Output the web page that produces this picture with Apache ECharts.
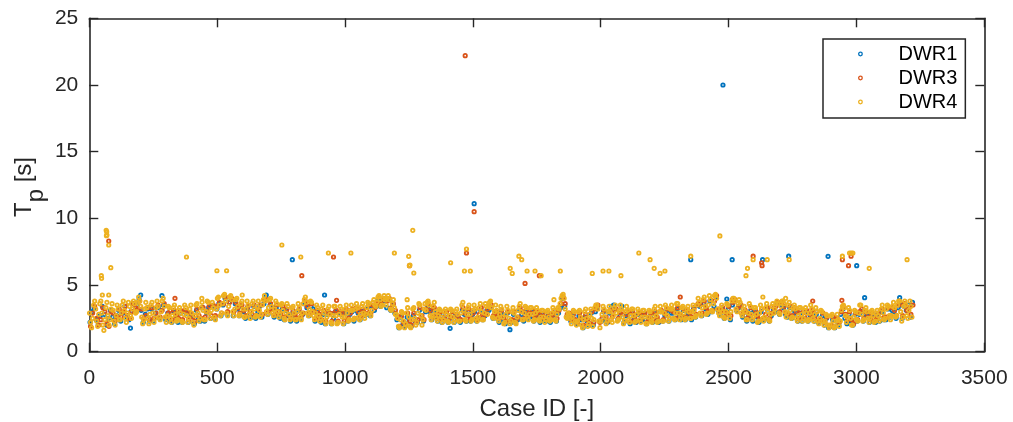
<!DOCTYPE html>
<html>
<head>
<meta charset="utf-8">
<script src="https://cdn.jsdelivr.net/npm/echarts@6/dist/echarts.min.js"></script>
<style>
html,body{margin:0;padding:0;background:#fff;}
#c{width:1013px;height:422px;}
</style>
</head>
<body>
<div id="c"></div>
<script>
// ---------- DATA ----------
const seriesNames = ['DWR1', 'DWR3', 'DWR4'];
const xTicks = [0, 500, 1000, 1500, 2000, 2500, 3000, 3500];
const yTicks = [0, 5, 10, 15, 20, 25];

// DWR1 band: case IDs = start + i*step
const dwr1Start = 3, dwr1Step = 8;
const dwr1Band = [
2.2,3.0,3.3,2.4,2.0, 2.7,3.4,2.8,2.0,2.5, 3.1,2.6,2.1,2.7,3.1, 2.3,2.9,3.4,2.6,2.4,
3.0,3.6,3.1,3.5,3.9, 3.1,2.2,2.8,3.2,2.3, 3.2,2.3,2.9,3.3,2.5, 3.3,3.5,2.4,2.9,2.3,
2.2,3.0,2.7,2.2,2.9, 2.2,3.0,2.9,2.2,2.8, 2.7,2.1,3.1,2.5,2.3, 3.3,2.3,2.9,3.3,2.5,
3.4,2.5,3.2,3.6,2.7, 3.5,4.0,2.8,3.7,3.9, 2.7,3.6,3.2,2.7,3.4, 3.0,2.5,3.3,2.8,2.6,
3.4,2.5,3.0,3.4,2.6, 3.6,3.9,2.8,3.5,3.3, 2.6,3.3,2.8,2.5,3.2, 2.4,3.1,2.7,2.3,2.9,
2.7,2.3,3.1,2.5,2.8, 3.6,3.3,2.7,3.4,3.2, 2.3,3.0,2.6,2.2,2.8, 2.1,2.8,2.9,2.1,2.5,
3.0,2.2,2.9,2.8,2.1, 2.9,2.3,2.8,3.0,2.3, 3.1,2.9,2.4,3.0,2.7, 2.8,3.4,2.7,3.4,3.1,
3.4,4.0,3.4,3.8,3.9, 3.3,3.9,3.1,3.5,2.9, 2.4,1.8,2.6,2.1,1.9, 2.6,2.3,1.9,2.7,2.3,
2.2,3.1,2.5,2.3,3.0, 3.3,3.0,2.4,3.1,2.6, 2.3,2.8,2.2,2.4,2.8, 2.2,2.5,2.8,2.2,2.6,
2.6,2.2,3.1,2.8,2.3, 3.0,2.3,2.8,3.0,2.3, 2.5,3.1,2.4,2.7,3.1, 3.1,3.3,2.5,2.8,2.5,
2.2,2.9,2.4,2.1,2.9, 2.3,2.2,2.8,2.2,2.4, 3.1,2.8,2.3,3.0,2.5, 2.6,3.0,2.3,2.7,2.8,
2.2,2.8,2.4,2.3,2.8, 2.2,2.7,2.9,2.3,2.9, 3.3,4.0,3.4,2.6,2.7, 2.3,2.7,2.3,2.1,2.7,
2.4,1.8,2.6,2.3,2.0, 2.9,2.0,3.0,3.3,2.3, 2.3,3.0,2.4,2.2,2.9, 3.4,3.5,3.2,2.4,2.7,
3.4,2.2,2.7,2.8,2.1, 2.9,2.5,2.2,2.8,2.3, 2.4,2.8,2.1,2.4,2.7, 2.2,2.9,2.5,2.2,3.0,
2.3,2.7,3.1,2.3,2.9, 2.9,2.4,3.2,2.7,2.4, 3.1,2.4,2.9,2.8,2.4, 3.2,2.6,3.5,3.4,2.7,
3.6,3.2,2.8,3.8,3.0, 3.4,4.1,3.1,2.8,3.2, 2.5,2.8,3.2,2.4,3.5, 3.8,3.1,3.3,3.4,2.6,
3.0,2.3,2.7,3.1,2.3, 3.0,2.6,2.2,3.0,2.4, 2.5,3.2,2.3,2.7,3.2, 3.0,3.6,2.8,3.5,3.3,
2.8,2.6,3.3,2.5,3.1, 2.9,2.3,2.9,2.3,2.5, 3.0,2.3,2.7,2.9,2.3, 2.8,2.2,2.3,2.7,2.0,
2.5,1.8,1.9,2.4,1.8, 2.3,2.0,2.8,3.2,2.5, 2.1,2.8,2.3,2.0,2.8, 2.3,2.8,3.0,2.3,2.8,
2.7,2.2,2.7,2.5,2.2, 2.8,2.3,3.0,2.4,2.4, 3.2,2.6,3.1,3.0,2.5, 3.3,3.5,2.5,3.4,3.1,
3.5,2.6,3.7
];
const dwr1Outliers = [
[161,1.77],[201,4.25],[284,4.2],[692,4.25],[794,6.9],[920,4.25],[1411,1.75],[1505,11.1],
[1645,1.65],[2352,6.9],[2478,20.0],[2493,3.95],[2514,6.9],[2633,6.9],[2735,7.16],
[2889,7.15],[3001,6.45],[3032,4.05],[3169,4.05]
];

// DWR3 band
const dwr3Start = 5, dwr3Step = 8;
const dwr3Band = [
1.9,2.9,3.4,2.5,2.0, 2.4,3.3,3.0,2.1,1.9, 3.0,2.9,2.3,2.6,3.2, 2.6,3.0,3.4,2.7,2.5,
3.0,3.6,3.3,3.2,3.8, 3.2,2.5,2.7,3.3,2.4, 3.3,2.5,2.9,3.5,2.6, 3.1,3.6,2.6,2.9,3.1,
2.4,3.1,2.7,2.5,3.1, 2.4,3.1,3.0,2.4,2.9, 2.6,2.3,3.2,2.7,2.5, 3.3,2.6,3.0,3.4,2.7,
3.5,2.7,3.4,3.7,2.9, 3.6,4.1,3.0,3.7,4.0, 3.0,3.7,3.3,2.9,3.5, 3.1,2.7,3.4,3.0,2.8,
3.5,2.7,3.2,3.5,2.8, 3.9,3.9,3.0,3.6,3.2, 2.8,3.5,3.0,2.8,3.4, 2.6,3.2,2.8,2.5,3.1,
2.8,2.5,3.2,2.7,2.9, 3.8,3.4,2.9,3.6,3.0, 2.5,3.1,2.8,2.4,3.1, 2.3,3.0,2.9,2.3,2.9,
3.1,2.3,3.0,2.9,2.3, 3.2,2.5,2.9,3.2,2.5, 3.3,3.0,2.6,3.2,2.8, 3.1,3.5,2.9,3.5,3.3,
3.6,4.1,3.6,3.9,4.0, 3.8,4.0,3.3,3.6,3.1, 2.6,1.9,2.7,2.2,2.0, 2.9,2.3,2.0,2.9,2.3,
2.4,3.3,2.7,2.4,3.2, 3.6,3.1,2.6,3.3,2.8, 2.5,3.0,2.4,2.6,3.0, 2.3,2.6,3.0,2.4,2.8,
2.5,2.4,3.3,2.9,2.5, 3.2,2.5,2.9,3.2,2.4, 2.8,3.3,2.6,2.8,3.2, 3.4,3.5,2.7,3.0,2.8,
2.5,3.1,2.6,2.3,3.0, 2.3,2.4,3.0,2.4,2.6, 3.3,3.0,2.5,3.1,2.7, 2.9,3.1,2.5,2.8,3.0,
2.5,2.9,2.6,2.4,2.9, 2.5,2.8,3.1,2.5,3.1, 3.6,4.1,3.6,2.8,2.9, 2.4,2.8,2.4,2.2,2.9,
2.5,2.0,2.8,2.4,2.1, 3.0,2.2,3.2,3.5,2.2, 2.5,3.1,2.6,2.3,3.1, 2.6,3.1,3.2,2.5,2.9,
3.0,2.3,2.8,3.0,2.3, 3.0,2.6,2.3,2.9,2.4, 2.8,2.9,2.2,2.5,2.9, 2.4,3.0,2.6,2.3,3.1,
2.4,2.8,3.2,2.5,3.1, 3.0,2.5,3.3,2.8,2.6, 3.2,2.6,3.1,2.9,2.6, 3.3,2.8,3.6,3.5,2.9,
3.8,3.3,3.0,3.9,3.1, 3.8,4.2,3.2,3.0,3.3, 2.6,2.9,3.4,2.7,3.7, 3.9,3.2,3.4,3.5,2.9,
3.1,2.5,2.8,3.3,2.6, 3.1,2.7,2.4,3.2,2.5, 2.8,3.3,2.5,2.9,3.3, 3.4,3.7,3.0,3.7,3.4,
2.9,2.8,3.4,2.7,3.3, 3.0,2.5,3.1,2.5,2.7, 3.1,2.4,2.8,3.1,2.5, 3.0,2.3,2.4,2.9,2.2,
2.6,1.9,2.0,2.6,1.9, 2.5,2.2,3.0,3.4,2.8, 2.4,3.0,2.4,2.1,2.9, 2.4,3.0,3.2,2.5,3.0,
2.8,2.4,2.9,2.5,2.4, 2.9,2.5,3.2,2.6,2.6, 3.3,2.7,3.3,3.1,2.7, 3.5,3.6,2.7,3.6,3.1,
3.3,2.8,3.5
];
const dwr3Outliers = [
[76,8.3],[335,4.0],[831,5.7],[955,7.1],[967,3.85],[1252,6.45],[1470,22.2],[1475,7.4],
[1505,10.5],[1704,5.12],[1760,5.7],[2311,4.1],[2515,3.9],[2596,7.16],[2629,6.67],
[2631,6.45],[2829,3.8],[2943,3.85],[2945,6.9],[2969,6.45],[2979,7.16]
];

// DWR4 band
const dwr4Start = 1, dwr4Step = 4;
const dwr4Band = [
2.9,2.2,1.8,2.5,3.5,3.8,3.2,2.3,1.9,2.8,
3.6,3.8,2.9,2.0,1.6,2.4,3.3,3.7,2.7,2.0,
2.4,3.2,3.6,3.1,2.3,2.0,2.7,3.5,3.2,2.4,
2.4,2.9,3.5,3.8,3.1,2.5,2.2,2.9,3.7,3.4,
2.7,2.5,3.2,3.8,3.6,2.9,3.0,3.7,4.1,3.8,
3.4,2.6,2.1,2.4,3.2,3.7,3.3,2.5,2.1,2.8,
3.5,3.7,2.9,2.2,2.5,3.3,3.8,3.4,2.6,2.4,
3.0,3.8,4.0,3.4,2.6,2.2,2.7,3.4,3.3,2.5,
2.2,2.7,3.3,3.5,2.8,2.3,2.4,3.1,3.3,2.9,
2.3,2.2,2.8,3.5,3.3,2.7,2.2,2.5,3.2,3.5,
2.9,2.2,2.0,2.7,3.5,3.6,2.9,2.3,2.5,3.3,
3.7,3.1,2.4,2.4,3.0,3.8,3.7,2.9,2.5,3.1,
3.7,3.3,2.6,2.4,3.2,4.0,4.1,3.5,2.7,2.9,
3.6,4.2,4.3,3.8,2.9,2.7,3.4,4.1,4.2,3.9,
3.0,2.7,3.2,3.9,4.0,3.4,2.7,2.8,3.6,3.8,
3.2,2.6,2.6,3.2,3.8,3.5,2.8,2.5,3.0,3.6,
3.8,3.2,2.6,2.7,3.4,3.8,3.1,2.6,2.8,3.5,
3.9,4.2,3.8,3.0,2.8,3.3,3.9,4.0,3.4,2.9,
2.7,3.2,3.8,3.6,3.0,2.6,2.8,3.5,3.6,3.1,
2.5,2.4,2.9,3.6,3.4,2.8,2.4,2.6,3.3,3.4,
2.9,2.4,2.4,3.0,3.6,3.3,2.6,2.4,2.9,3.6,
3.9,4.1,3.7,2.9,2.7,3.2,3.8,3.7,3.0,2.7,
2.4,2.9,3.5,3.3,2.7,2.3,2.5,3.2,3.5,2.9,
2.3,2.1,2.6,3.2,3.4,2.8,2.2,2.1,2.7,3.4,
3.4,2.7,2.1,2.2,2.8,3.4,3.2,2.6,2.1,2.6,
3.2,3.5,2.9,2.3,2.4,3.1,3.5,3.1,2.4,2.5,
3.2,3.6,3.3,2.6,2.4,2.8,3.4,3.6,2.9,2.5,
2.8,3.3,3.7,3.6,2.9,2.7,3.1,3.7,3.9,3.5,
3.4,3.7,4.1,4.2,3.9,3.4,3.5,4.0,4.2,3.9,
3.5,4.0,4.2,3.9,3.2,3.1,3.6,3.9,3.3,2.8,
2.8,2.5,1.9,1.8,2.4,3.0,2.9,2.3,1.8,2.1,
2.9,3.3,2.6,1.9,1.8,2.4,3.2,3.3,2.5,2.0,
2.2,2.9,3.6,3.5,2.7,2.0,2.4,3.2,3.6,3.1,
3.7,3.8,3.5,2.7,2.4,2.7,3.4,3.7,3.0,2.5,
2.3,2.7,3.2,3.1,2.6,2.2,2.4,3.0,3.2,2.8,
2.3,2.2,2.7,3.2,3.1,2.6,2.2,2.4,3.0,3.2,
2.8,2.3,2.3,2.9,3.5,3.7,3.1,2.4,2.3,2.8,
3.3,3.5,2.8,2.3,2.4,3.1,3.5,3.2,2.5,2.3,
2.6,3.3,3.6,3.0,2.4,2.4,2.9,3.6,3.4,2.8,
3.4,3.7,3.8,3.3,2.6,2.5,3.0,3.5,3.1,2.5,
2.3,2.8,3.4,3.2,2.6,2.1,2.2,2.8,3.4,3.1,
2.5,2.1,2.3,3.0,3.3,2.9,2.2,2.1,2.6,3.1,
3.4,3.6,3.0,2.4,2.4,2.9,3.4,3.3,2.6,2.4,
2.8,3.3,3.3,2.8,2.3,2.4,2.9,3.3,3.1,2.4,
2.3,2.6,3.1,3.1,2.6,2.2,2.4,3.0,3.1,2.6,
2.3,2.4,2.9,3.3,3.1,2.4,2.3,2.8,3.3,3.2,
3.6,4.0,4.2,4.3,4.0,3.2,2.6,2.5,2.9,2.8,
2.5,2.1,2.6,3.1,3.0,2.3,2.0,2.3,3.0,3.1,
2.6,2.0,1.8,2.4,3.0,3.2,2.5,1.9,2.1,2.8,
3.2,2.5,1.9,2.4,3.3,3.5,3.5,3.2,2.3,1.8,
2.3,2.8,3.4,3.2,2.6,2.1,2.3,3.0,3.4,3.0,
2.4,2.2,2.7,3.3,3.5,2.9,2.3,2.4,3.1,3.5,
3.2,2.6,2.1,2.3,3.0,3.4,3.1,2.4,2.2,2.7,
3.2,3.2,2.7,2.2,2.3,2.8,3.2,3.0,2.4,2.2,
2.6,3.1,3.1,2.6,2.1,2.1,2.6,3.1,3.0,2.3,
2.2,2.6,3.2,3.4,2.7,2.2,2.3,3.0,3.4,3.0,
2.3,2.3,2.9,3.5,3.3,2.7,2.3,2.5,3.2,3.5,
3.2,2.5,2.4,2.9,3.6,3.6,2.9,2.4,2.6,3.3,
3.4,2.9,2.4,2.5,3.2,3.4,3.0,2.5,2.5,3.0,
3.5,3.1,2.6,2.7,3.5,4.0,3.7,2.9,2.7,3.3,
3.9,4.1,3.4,2.8,2.9,3.5,4.2,3.9,3.1,3.0,
3.6,4.2,4.3,4.0,3.2,2.9,2.7,3.2,3.5,3.0,
2.6,2.5,3.0,3.6,3.5,2.8,2.5,3.0,3.8,4.0,
4.0,3.8,3.2,3.0,3.6,3.9,3.7,2.9,2.7,3.2,
3.4,3.0,2.4,2.4,2.9,3.6,3.4,2.8,2.4,2.6,
3.3,3.3,2.8,2.2,2.3,2.9,3.5,3.2,2.5,2.3,
2.6,3.3,3.6,3.0,2.4,2.3,2.8,3.4,3.6,2.9,
3.2,3.6,3.8,3.6,2.9,2.8,3.4,3.8,3.8,3.6,
3.0,2.6,2.9,3.5,3.7,3.1,2.5,2.6,3.3,3.5,
3.2,2.5,2.3,2.7,3.3,3.3,2.8,2.3,2.5,3.1,
3.3,2.9,2.3,2.4,2.9,3.5,3.2,2.5,2.3,2.8,
3.3,3.0,2.3,2.1,2.5,3.1,3.0,2.3,2.0,2.3,
2.8,2.7,2.0,1.8,2.0,2.7,2.8,2.3,1.8,1.9,
2.3,2.8,2.4,1.9,2.3,3.1,3.4,3.5,3.3,2.7,
2.2,2.6,3.3,3.1,2.5,2.0,2.0,2.6,3.1,3.0,
2.4,2.3,2.9,3.5,3.5,2.8,2.3,2.4,3.1,3.3,
3.0,2.5,2.2,2.5,3.0,3.1,2.7,2.2,2.3,2.9,
3.1,2.7,2.3,2.5,3.2,3.5,2.9,2.4,2.5,3.2,
3.5,3.4,2.7,2.4,2.7,3.4,3.7,3.3,2.6,2.7,
3.5,3.8,3.8,3.0,2.3,2.6,3.4,3.8,3.5,2.7,
2.5,3.1,3.8,3.4,2.6
];
const dwr4Outliers = [
[47,5.7],[48,5.5],[51,4.25],[76,4.25],[66,9.1],[68,9.0],[67,8.7],[69,8.75],[76,8.0],
[84,6.3],[380,7.1],[440,4.0],[499,6.07],[537,6.07],[598,4.25],[753,8.0],[827,7.1],
[935,7.4],[1023,7.4],[1193,7.4],[1243,3.9],[1249,7.15],[1252,6.45],[1254,6.5],
[1265,9.1],[1269,5.9],[1413,6.67],[1467,6.05],[1475,7.7],[1490,6.05],[1646,6.25],
[1654,5.87],[1680,7.16],[1691,6.9],[1712,6.05],[1743,6.05],[1767,5.7],[1817,3.9],
[1842,6.05],[1967,5.87],[2009,6.05],[2032,6.05],[2079,5.7],[2149,7.4],[2193,6.9],
[2209,6.25],[2232,5.87],[2251,6.05],[2352,7.16],[2466,8.68],[2568,5.7],[2574,6.25],
[2596,6.9],[2634,4.1],[2651,6.9],[2723,4.0],[2737,6.9],[2945,7.16],[2973,7.4],
[2980,7.4],[2986,7.4],[3050,6.25],[3198,6.9]
];

const colors = ['#0072BD', '#D95319', '#EDB120'];

// ---------- BUILD ----------
function buildPoints(start, step, band, outliers) {
  const pts = band.map((v, i) => [start + i * step, v]);
  return pts.concat(outliers);
}
const seriesData = [
  buildPoints(dwr1Start, dwr1Step, dwr1Band, dwr1Outliers),
  buildPoints(dwr3Start, dwr3Step, dwr3Band, dwr3Outliers),
  buildPoints(dwr4Start, dwr4Step, dwr4Band, dwr4Outliers)
];

const FONT = '"Liberation Sans", Arial, Helvetica, sans-serif';
const AX = '#262626';

const chart = echarts.init(document.getElementById('c'), null, {renderer: 'canvas'});

function xAx(pos, showLabel) {
  return {
    type: 'value', position: pos, min: xTicks[0], max: xTicks[xTicks.length - 1],
    interval: xTicks[1] - xTicks[0],
    axisLine: {show: true, onZero: false, lineStyle: {color: AX, width: 1.6}},
    axisTick: {show: true, inside: true, length: 9, lineStyle: {color: AX, width: 1.4}},
    axisLabel: {show: showLabel, margin: 16, fontSize: 21, color: AX, fontFamily: FONT,
      formatter: v => String(v)},
    splitLine: {show: false},
    name: showLabel ? 'Case ID [-]' : '',
    nameLocation: 'middle', nameGap: 46,
    nameTextStyle: {fontSize: 24, color: AX, fontFamily: FONT}
  };
}
function yAx(pos, showLabel) {
  return {
    type: 'value', position: pos, min: yTicks[0], max: yTicks[yTicks.length - 1],
    interval: yTicks[1] - yTicks[0],
    axisLine: {show: true, onZero: false, lineStyle: {color: AX, width: 1.6}},
    axisTick: {show: true, inside: true, length: 9, lineStyle: {color: AX, width: 1.4}},
    axisLabel: {show: showLabel, margin: 11, fontSize: 21, color: AX, fontFamily: FONT,
      formatter: v => String(v)},
    splitLine: {show: false}
  };
}

const option = {
  animation: false,
  backgroundColor: '#ffffff',
  grid: {left: 89.3, right: 28.7, top: 18.3, bottom: 70.3, containLabel: false,
    outerBoundsMode: 'none'},
  xAxis: [xAx('bottom', true), xAx('top', false)],
  yAxis: [yAx('left', true), yAx('right', false)],
  legend: {
    orient: 'vertical', left: 823, top: 39,
    padding: [5, 8, 6, 35], itemGap: 4,
    itemWidth: 66, itemHeight: 3.6,
    backgroundColor: '#ffffff', borderColor: AX, borderWidth: 1.5, borderRadius: 0,
    textStyle: {fontSize: 20, color: '#000', fontFamily: FONT, lineHeight: 20},
    selectedMode: false,
    data: seriesNames.map((n, i) => ({
      name: n, icon: 'circle',
      itemStyle: {color: 'transparent', borderColor: colors[i], borderWidth: 1.3}
    }))
  },
  graphic: [{
    type: 'group', x: 32, y: 217, rotation: Math.PI / 2,
    children: [
      {type: 'text', x: 0, y: -8, style: {text: 'T', font: '24px ' + FONT, fill: AX, textAlign: 'left', textVerticalAlign: 'middle'}},
      {type: 'text', x: 14.7, y: 4, style: {text: 'p', font: '24px ' + FONT, fill: AX, textAlign: 'left', textVerticalAlign: 'middle'}},
      {type: 'text', x: 34.7, y: -8, style: {text: '[s]', font: '24px ' + FONT, fill: AX, textAlign: 'left', textVerticalAlign: 'middle'}}
    ]
  }],
  series: seriesNames.map((n, i) => ({
    name: n, type: 'scatter', xAxisIndex: 0, yAxisIndex: 0,
    symbol: 'circle', symbolSize: 3.4, silent: true, large: false,
    itemStyle: {color: 'transparent', borderColor: colors[i], borderWidth: 1.8, opacity: 1},
    data: seriesData[i]
  }))
};
chart.setOption(option);
</script>
</body>
</html>
